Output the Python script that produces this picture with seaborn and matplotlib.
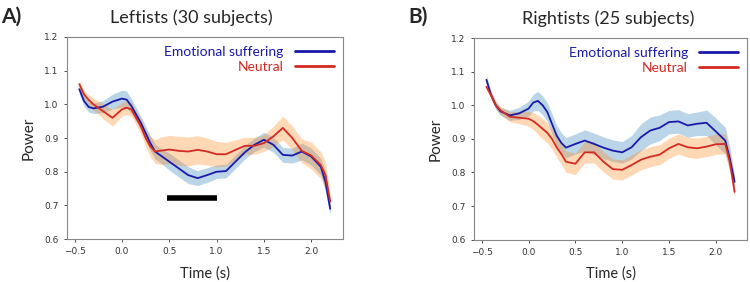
import numpy as np
import pandas as pd
import matplotlib
matplotlib.use("Agg")
import matplotlib.pyplot as plt
import seaborn as sns

sns.set_style("white")

time = [-0.45, -0.4, -0.35, -0.3, -0.2, -0.1, 0.0, 0.05, 0.1, 0.15, 0.2, 0.25, 0.3, 0.35,
        0.4, 0.5, 0.6, 0.7, 0.8, 0.9, 1.0, 1.1, 1.2, 1.3, 1.4, 1.5, 1.6, 1.7, 1.8, 1.9,
        2.0, 2.1, 2.15, 2.2]

# Leftists (A)
left_emo = [1.045, 1.01, 0.992, 0.988, 0.993, 1.008, 1.017, 1.014, 0.995, 0.97, 0.945, 0.915,
            0.885, 0.86, 0.85, 0.83, 0.81, 0.79, 0.781, 0.79, 0.8, 0.802, 0.83, 0.858, 0.88,
            0.895, 0.88, 0.85, 0.848, 0.86, 0.845, 0.815, 0.77, 0.69]
left_emo_sem = [0.015, 0.015, 0.015, 0.015, 0.018, 0.022, 0.025, 0.025, 0.022, 0.02, 0.02, 0.02,
                0.022, 0.022, 0.022, 0.025, 0.025, 0.025, 0.022, 0.022, 0.02, 0.02, 0.02, 0.02,
                0.02, 0.022, 0.022, 0.022, 0.022, 0.025, 0.025, 0.025, 0.03, 0.02]
left_neu = [1.06, 1.03, 1.013, 1.0, 0.98, 0.96, 0.985, 0.99, 0.985, 0.96, 0.935, 0.9, 0.875,
            0.86, 0.862, 0.866, 0.862, 0.86, 0.865, 0.86, 0.852, 0.852, 0.865, 0.877, 0.877,
            0.885, 0.905, 0.93, 0.9, 0.862, 0.848, 0.82, 0.79, 0.712]
left_neu_sem = [0.012, 0.012, 0.015, 0.018, 0.022, 0.025, 0.02, 0.02, 0.02, 0.02, 0.022, 0.025,
                0.03, 0.035, 0.04, 0.042, 0.043, 0.043, 0.042, 0.04, 0.038, 0.035, 0.03, 0.025,
                0.025, 0.025, 0.03, 0.035, 0.035, 0.035, 0.04, 0.04, 0.04, 0.02]

# Rightists (B)
right_emo = [1.076, 1.03, 1.0, 0.982, 0.97, 0.976, 0.99, 1.008, 1.013, 1.0, 0.98, 0.945, 0.91,
             0.888, 0.874, 0.885, 0.895, 0.885, 0.874, 0.865, 0.86, 0.875, 0.905, 0.925, 0.933,
             0.95, 0.952, 0.94, 0.945, 0.948, 0.922, 0.895, 0.84, 0.772]
right_emo_sem = [0.012, 0.012, 0.012, 0.012, 0.015, 0.018, 0.022, 0.025, 0.028, 0.028, 0.028,
                 0.03, 0.03, 0.03, 0.03, 0.03, 0.032, 0.032, 0.032, 0.032, 0.032, 0.035, 0.04,
                 0.04, 0.038, 0.035, 0.035, 0.035, 0.035, 0.038, 0.04, 0.04, 0.035, 0.02]
right_neu = [1.055, 1.03, 1.0, 0.985, 0.966, 0.963, 0.96, 0.953, 0.942, 0.93, 0.918, 0.9, 0.875,
             0.855, 0.832, 0.826, 0.86, 0.86, 0.832, 0.81, 0.808, 0.822, 0.838, 0.847, 0.853,
             0.872, 0.885, 0.875, 0.872, 0.877, 0.884, 0.885, 0.83, 0.742]
right_neu_sem = [0.01, 0.01, 0.012, 0.012, 0.015, 0.018, 0.022, 0.025, 0.028, 0.03, 0.03, 0.03,
                 0.03, 0.03, 0.032, 0.032, 0.032, 0.032, 0.03, 0.03, 0.03, 0.03, 0.03, 0.03,
                 0.03, 0.03, 0.03, 0.03, 0.03, 0.03, 0.03, 0.03, 0.03, 0.015]

sig_bar = [0.48, 1.0]
sig_level = 0.722

BLUE = "#1a1aaa"
RED = "#d42a22"
TXT = ["Lato", "DejaVu Sans"]

fig = plt.figure(figsize=(7.5, 2.82), dpi=100)
axA = fig.add_axes([0.089, 0.152, 0.368, 0.717])
axB = fig.add_axes([0.632, 0.15, 0.364, 0.715])

panels = [
    (axA, "A)", "Leftists (30 subjects)", 0.45, left_emo, left_emo_sem, left_neu, left_neu_sem),
    (axB, "B)", "Rightists (25 subjects)", 0.49, right_emo, right_emo_sem, right_neu, right_neu_sem),
]

for ax, tag, title, tx, emo, emo_sem, neu, neu_sem in panels:
    df = pd.DataFrame({
        "time": time * 2,
        "power": emo + neu,
        "cond": ["Emotional suffering"] * len(time) + ["Neutral"] * len(time),
    })
    t = np.array(time)
    ax.fill_between(t, np.array(emo) - emo_sem, np.array(emo) + emo_sem,
                    color="#1f77b4", alpha=0.3, lw=0)
    ax.fill_between(t, np.array(neu) - neu_sem, np.array(neu) + neu_sem,
                    color="#ff7f0e", alpha=0.3, lw=0)
    sns.lineplot(data=df, x="time", y="power", hue="cond",
                 palette={"Emotional suffering": BLUE, "Neutral": RED},
                 lw=1.3, ax=ax)
    ax.set_ylim(0.6, 1.2)
    ax.set_yticks([0.6, 0.7, 0.8, 0.9, 1.0, 1.1, 1.2])
    ax.set_xticks([-0.5, 0.0, 0.5, 1.0, 1.5, 2.0])
    ax.tick_params(labelsize=6.5, length=2.5, width=0.6, colors="#333333",
                   bottom=True, left=True)
    for s in ax.spines.values():
        s.set_color("#888888")
        s.set_linewidth(0.8)
    ax.set_xlabel("Time (s)", fontsize=10.5, family=TXT, labelpad=7)
    ax.set_ylabel("Power", fontsize=11, family=TXT, labelpad=6)
    ax.set_title(title, fontsize=13, family=TXT, x=tx, pad=10)
    leg = ax.legend(loc="upper right", frameon=False, markerfirst=False,
                    handlelength=2.8, borderaxespad=0.25, labelspacing=0.2,
                    prop={"family": TXT, "size": 10})
    for txt, line in zip(leg.get_texts(), leg.get_lines()):
        txt.set_color(line.get_color())
        line.set_linewidth(2)

axA.plot(sig_bar, [sig_level, sig_level], color="black", lw=4, solid_capstyle="butt")

fig.text(0.002, 0.975, "A)", fontsize=15, fontweight="bold", family=TXT, va="top")
fig.text(0.545, 0.975, "B)", fontsize=15, fontweight="bold", family=TXT, va="top")

fig.savefig("out.png", dpi=100)
